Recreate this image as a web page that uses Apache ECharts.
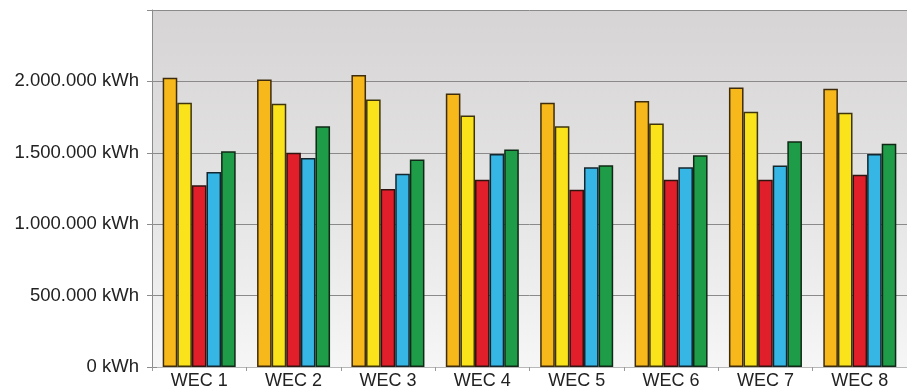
<!DOCTYPE html>
<html>
<head>
<meta charset="utf-8">
<style>
  html, body { margin: 0; padding: 0; background: #ffffff; }
  #chart { width: 907px; height: 390px; }
</style>
<script src="https://cdn.jsdelivr.net/npm/echarts@6/dist/echarts.min.js"></script>
</head>
<body>
<div id="chart"></div>
<script>
// Turbine names along the x axis
const categories = ['WEC 1', 'WEC 2', 'WEC 3', 'WEC 4', 'WEC 5', 'WEC 6', 'WEC 7', 'WEC 8'];

// Annual energy yield per turbine, kWh (five series per turbine)
const seriesA = [2025000, 2014000, 2044000, 1916000, 1850000, 1862000, 1958000, 1949000];
const seriesB = [1850000, 1843000, 1874000, 1761000, 1686000, 1705000, 1787000, 1780000];
const seriesC = [1272000, 1500000, 1247000, 1312000, 1242000, 1312000, 1312000, 1347000];
const seriesD = [1366000, 1464000, 1354000, 1492000, 1399000, 1399000, 1411000, 1492000];
const seriesE = [1511000, 1686000, 1453000, 1523000, 1413000, 1483000, 1581000, 1563000];

// Y axis range and step
const yMin = 0;
const yMax = 2500000;
const yStep = 500000;

const seriesList = [
  { name: 'A', data: seriesA, color: '#f6b81b', border: '#3e2c0c' },
  { name: 'B', data: seriesB, color: '#fbe31c', border: '#3e350c' },
  { name: 'C', data: seriesC, color: '#e01f2a', border: '#301410' },
  { name: 'D', data: seriesD, color: '#35b6e4', border: '#14262e' },
  { name: 'E', data: seriesE, color: '#1e9c47', border: '#102816' }
];

function formatKwh(v) {
  if (v >= yMax) return '';
  return String(v).replace(/\B(?=(\d{3})+(?!\d))/g, '.') + ' kWh';
}

const chart = echarts.init(document.getElementById('chart'), null, { renderer: 'canvas' });

const axisGray = '#8c8c8c';
const textColor = '#222222';
const fontFamily = '"Liberation Sans", Arial, sans-serif';

chart.setOption({
  animation: false,
  backgroundColor: '#ffffff',
  grid: {
    left: 152,
    right: -9,
    top: 10,
    bottom: 23,
    show: true,
    borderWidth: 0,
    backgroundColor: {
      type: 'linear', x: 0, y: 0, x2: 0, y2: 1,
      colorStops: [
        { offset: 0, color: '#d6d4d4' },
        { offset: 0.5, color: '#e4e3e3' },
        { offset: 1, color: '#f6f6f6' }
      ]
    }
  },
  xAxis: {
    type: 'category',
    data: categories,
    axisLine: { show: true, lineStyle: { color: '#b8b8b8', width: 1 } },
    axisTick: { show: true, alignWithLabel: false, length: 4, lineStyle: { color: '#9a9a9a' } },
    axisLabel: { color: textColor, fontSize: 18, fontFamily: fontFamily, margin: 5 },
    splitLine: { show: false }
  },
  yAxis: [
    {
      type: 'value',
      min: yMin,
      max: yMax,
      interval: yStep,
      axisLine: { show: true, lineStyle: { color: axisGray, width: 1 } },
      axisTick: { show: true, length: 5, lineStyle: { color: axisGray } },
      axisLabel: { color: textColor, fontSize: 18.5, fontFamily: fontFamily, margin: 13, formatter: formatKwh },
      splitLine: { show: true, lineStyle: { color: '#8a8a8a', width: 1 } }
    },
    {
      type: 'value',
      position: 'left',
      min: yMin,
      max: yMax,
      interval: yStep,
      axisLine: { show: false },
      axisTick: { show: true, inside: true, length: 5, lineStyle: { color: axisGray } },
      axisLabel: { show: false },
      splitLine: { show: false }
    }
  ],
  series: seriesList.map(s => ({
    name: s.name,
    type: 'bar',
    yAxisIndex: 0,
    data: s.data,
    barWidth: 14.6,
    barGap: '0%',
    itemStyle: {
      color: s.color,
      borderColor: s.border,
      borderWidth: 1.5
    }
  }))
});
</script>
</body>
</html>
